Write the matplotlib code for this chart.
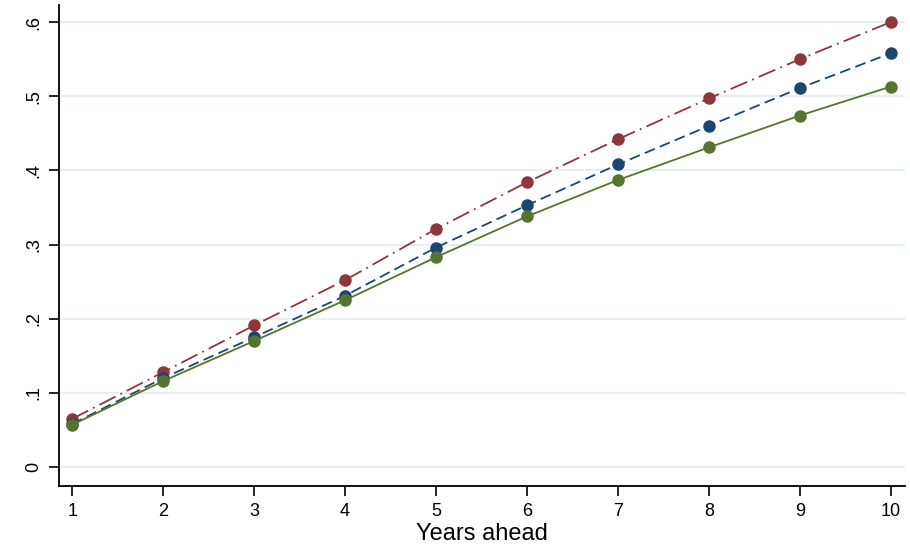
import matplotlib.pyplot as plt

plt.rcParams['font.family'] = ['Liberation Sans', 'DejaVu Sans']

# data
years = [1, 2, 3, 4, 5, 6, 7, 8, 9, 10]
red_vals = [0.065, 0.128, 0.191, 0.252, 0.321, 0.384, 0.442, 0.497, 0.550, 0.600]
blue_vals = [0.058, 0.120, 0.175, 0.231, 0.296, 0.353, 0.408, 0.460, 0.511, 0.558]
green_vals = [0.057, 0.116, 0.170, 0.225, 0.283, 0.338, 0.387, 0.431, 0.474, 0.513]
y_ticks = [0, 0.1, 0.2, 0.3, 0.4, 0.5, 0.6]
y_tick_labels = ['0', '.1', '.2', '.3', '.4', '.5', '.6']

fig = plt.figure(figsize=(9.1, 5.53), dpi=100)
ax = fig.add_axes([0.065, 0.121, 0.93, 0.870])

ax.plot(years, red_vals, color='#90353b', linestyle=(0, (10, 3, 1, 3)), lw=1.3,
        marker='o', markersize=8, zorder=3)
ax.plot(years, blue_vals, color='#1a476f', linestyle=(0, (6, 3)), lw=1.3,
        marker='o', markersize=8, zorder=3)
ax.plot(years, green_vals, color='#55752f', linestyle='-', lw=1.3,
        marker='o', markersize=8, zorder=3)

ax.set_xlim(0.857, 10.16)
ax.set_ylim(-0.0256, 0.623)
ax.set_xticks(years)
ax.set_yticks(y_ticks)
ax.set_yticklabels(y_tick_labels, rotation=90, va='center')
ax.tick_params(axis='both', direction='out', length=7, width=1.2, labelsize=13)
ax.tick_params(axis='y', pad=5)
ax.tick_params(axis='x', pad=5)

ax.grid(axis='y', color='#e6eff1', lw=1.5, zorder=0)
ax.spines['top'].set_visible(False)
ax.spines['right'].set_visible(False)
ax.spines['left'].set_linewidth(1.3)
ax.spines['bottom'].set_linewidth(1.3)

ax.set_xlabel('Years ahead', fontsize=17, labelpad=2)

fig.savefig('out.png', dpi=100)
